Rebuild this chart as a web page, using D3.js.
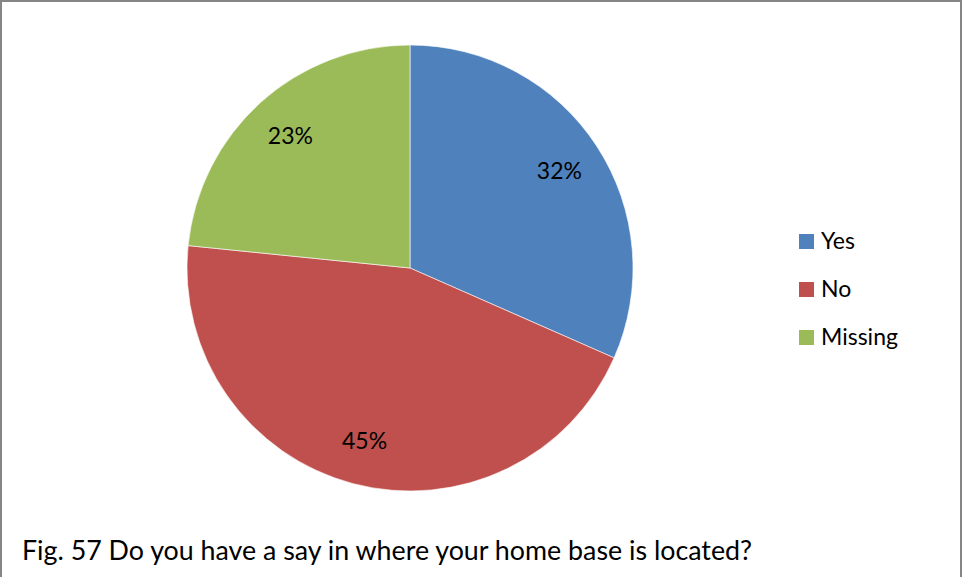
<!DOCTYPE html>
<html><head><meta charset="utf-8">
<script src="https://cdn.jsdelivr.net/npm/d3@7"></script>
<style>html,body{margin:0;padding:0;background:#fff;}svg{display:block;font-family:Lato,"Open Sans",sans-serif;}</style>
</head><body>
<svg id="c" width="963" height="577"></svg>
<script>
const categories = ["Yes", "No", "Missing"];
const values = [31.6, 45.0, 23.4];
const colors = ["#4F81BD", "#C0504D", "#9BBB59"];
const caption = "Fig. 57 Do you have a say in where your home base is located?";

const svg = d3.select("#c");
svg.append("rect").attr("x",1).attr("y",1).attr("width",960).attr("height",600)
  .attr("fill","#fff").attr("stroke","#868686").attr("stroke-width",2);

const cx = 410, cy = 268, r = 223;
const data = categories.map((c,i)=>({cat:c, value:values[i], color:colors[i]}));
const pie = d3.pie().value(d=>d.value).sort(null);
const arcs = pie(data);
const arc = d3.arc().innerRadius(0).outerRadius(r);
const labelArc = d3.arc().innerRadius(r*0.8).outerRadius(r*0.8);
const total = d3.sum(values);

const g = svg.append("g").attr("transform",`translate(${cx},${cy})`);
g.selectAll("path").data(arcs).join("path")
  .attr("d", arc).attr("fill", d=>d.data.color)
  .attr("stroke","#fff").attr("stroke-width",0.6);
g.selectAll("text").data(arcs).join("text")
  .attr("transform", d=>`translate(${labelArc.centroid(d)})`)
  .attr("text-anchor","middle").attr("dy","0.35em")
  .attr("font-size",23).attr("fill","#000")
  .text(d=>Math.round(d.data.value/total*100)+"%");

const leg = svg.append("g");
const ly = d3.scalePoint().domain(categories).range([241, 337]);
categories.forEach((c,i)=>{
  leg.append("rect").attr("x",799).attr("y",ly(c)-7).attr("width",15).attr("height",15).attr("fill",colors[i]);
  leg.append("text").attr("x",821).attr("y",ly(c)+8).attr("font-size",23).attr("fill","#000").text(c);
});

svg.append("text").attr("x",22).attr("y",560).attr("font-size",26.8).attr("fill","#000").text(caption);
</script>
</body></html>
